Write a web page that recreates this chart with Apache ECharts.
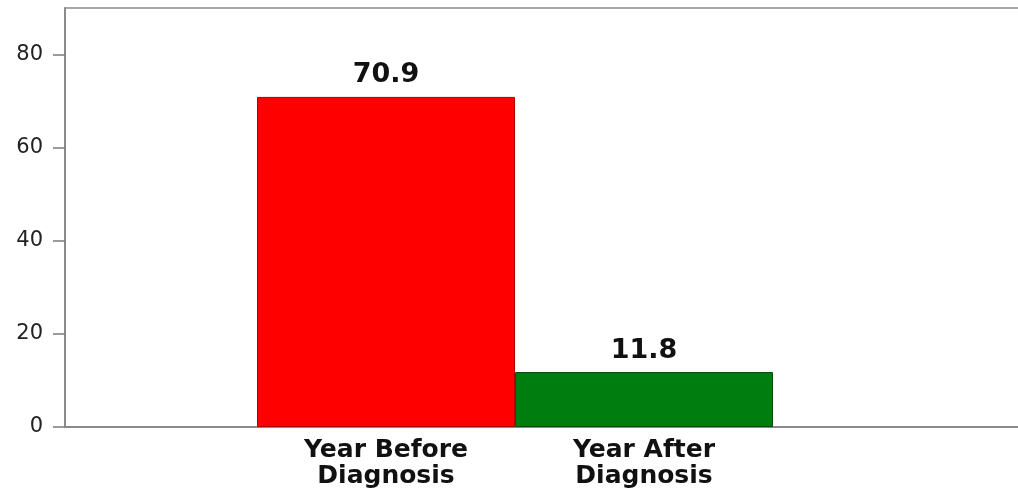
<!DOCTYPE html>
<html>
<head>
<meta charset="utf-8">
<script src="https://cdn.jsdelivr.net/npm/echarts@6/dist/echarts.min.js"></script>
<style>
  html, body { margin: 0; padding: 0; background: #ffffff; }
  #chart { width: 1018px; height: 493px; }
</style>
</head>
<body>
<div id="chart"></div>
<script>
// Percentage of patients, before vs after diagnosis
const categories = ['Year Before\nDiagnosis', 'Year After\nDiagnosis'];
const values = [70.9, 11.8];
const barColors = ['#ff0000', '#007d0f'];
const barBorders = ['#b00000', '#004d08'];
const frameMax = 90;       // top of the plotting frame
const tickMax = 80;        // last labelled tick
const tickStep = 20;

const chart = echarts.init(document.getElementById('chart'), null, { renderer: 'canvas' });

const font = '"DejaVu Sans", "Liberation Sans", Arial, sans-serif';
const axisGrey = '#8a8a8a';
const gridTop = 8, gridBottom = 66;
// pixel height of the frame, so the tick grid can stop at tickMax
const plotH = 493 - gridTop - gridBottom;
const tickTop = gridTop + plotH * (1 - tickMax / frameMax);

const plainLine = (w) => ({ show: true, lineStyle: { color: axisGrey, width: w } });

chart.setOption({
  animation: false,
  backgroundColor: '#ffffff',
  grid: [
    // frame: left, bottom and top lines
    { left: 65, right: 0, top: gridTop, bottom: gridBottom },
    // bars
    { left: 257, right: 245, top: gridTop, bottom: gridBottom },
    // tick marks and labels, 0..80
    { left: 65, right: 0, top: tickTop, bottom: gridBottom }
  ],
  xAxis: [
    {
      gridIndex: 0, type: 'value', min: 0, max: 1, position: 'bottom',
      axisLine: plainLine(2),
      axisTick: { show: false }, axisLabel: { show: false }, splitLine: { show: false }
    },
    {
      gridIndex: 0, type: 'value', min: 0, max: 1, position: 'top',
      axisLine: plainLine(1.5),
      axisTick: { show: false }, axisLabel: { show: false }, splitLine: { show: false }
    },
    {
      gridIndex: 1, type: 'category', data: categories,
      axisLine: { show: false }, axisTick: { show: false },
      axisLabel: {
        margin: 10, color: '#111', fontFamily: font, fontWeight: 'bold', fontSize: 25,
        lineHeight: 26, align: 'center'
      }
    },
    { gridIndex: 2, type: 'value', min: 0, max: 1, show: false }
  ],
  yAxis: [
    {
      gridIndex: 0, type: 'value', min: 0, max: frameMax,
      axisLine: plainLine(2),
      axisTick: { show: false }, axisLabel: { show: false }, splitLine: { show: false }
    },
    {
      gridIndex: 1, type: 'value', min: 0, max: frameMax, show: false,
      splitLine: { show: false }
    },
    {
      gridIndex: 2, type: 'value', min: 0, max: tickMax, interval: tickStep,
      axisLine: { show: false },
      axisTick: { show: true, length: 12, lineStyle: { color: '#7a7a7a', width: 1.5 } },
      axisLabel: { margin: 22, color: '#222', fontFamily: font, fontSize: 21 },
      splitLine: { show: false }
    }
  ],
  series: [{
    type: 'bar',
    xAxisIndex: 2, yAxisIndex: 1,
    barWidth: '100%',
    data: values.map((v, i) => ({
      value: v,
      itemStyle: { color: barColors[i], borderColor: barBorders[i], borderWidth: 1 }
    })),
    label: {
      show: true, position: 'top', distance: 8,
      color: '#111', fontFamily: font, fontWeight: 'bold', fontSize: 27,
      formatter: p => p.value.toFixed(1)
    }
  }]
});
</script>
</body>
</html>
